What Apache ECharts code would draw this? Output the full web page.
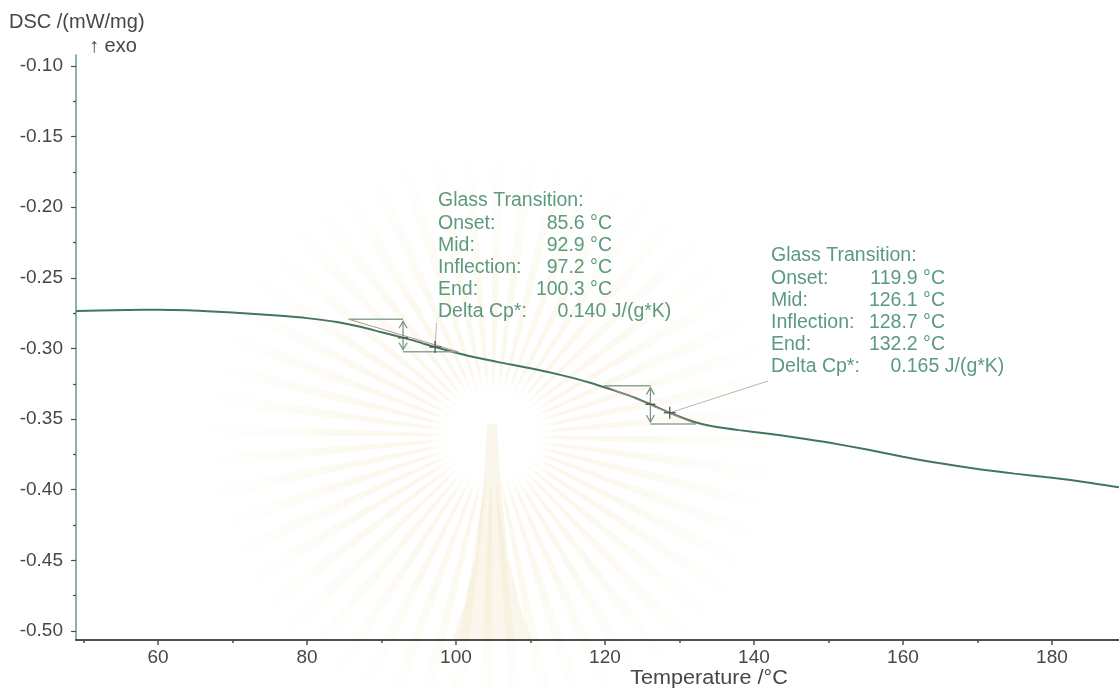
<!DOCTYPE html>
<html>
<head>
<meta charset="utf-8">
<script src="https://cdn.jsdelivr.net/npm/echarts@6/dist/echarts.min.js"></script>
<style>
  html, body { margin: 0; padding: 0; background: #ffffff; }
  #chart { width: 1119px; height: 688px; }
</style>
</head>
<body>
<div id="chart"></div>
<script>
// DSC heating curve: heat flow (mW/mg) against temperature (°C)
const temperature = [49, 52, 56, 60, 64, 68, 72, 76, 80, 84, 87, 90, 93, 95, 97.2, 100, 103, 106, 110, 114,
  118, 121, 124, 126.1, 128.7, 131, 133, 135, 138, 142, 146, 150, 155, 160, 165, 170, 175, 180, 185, 189];
const dsc = [-0.2734, -0.2731, -0.2727, -0.2726, -0.2730, -0.2740, -0.2752, -0.2767, -0.2785, -0.2812,
  -0.2845, -0.2885, -0.2925, -0.2955, -0.2990, -0.3030, -0.3068, -0.3100, -0.3140, -0.3187,
  -0.3242, -0.3293, -0.3348, -0.3395, -0.3455, -0.3503, -0.3535, -0.3556, -0.3578, -0.3604,
  -0.3633, -0.3666, -0.3714, -0.3766, -0.3813, -0.3853, -0.3886, -0.3915, -0.3950, -0.3983];

// Glass transition evaluations
const tgOnset = [85.6, 119.9];
const tgMid = [92.9, 126.1];
const tgInflection = [97.2, 128.7];
const tgEnd = [100.3, 132.2];
const tgDeltaCp = [0.140, 0.165];
const stepUpper = [-0.2793, -0.3263];   // extrapolated baseline before the step
const stepLower = [-0.3023, -0.3535];   // extrapolated baseline after the step
const dscAtMid = [-0.2924, -0.3395];
const dscAtInflection = [-0.2990, -0.3455];

// Axis ticks
const xMajorTicks = [60, 80, 100, 120, 140, 160, 180];
const xMinorTicks = [50, 70, 90, 110, 130, 150, 170];
const yMajorTicks = [-0.50, -0.45, -0.40, -0.35, -0.30, -0.25, -0.20, -0.15, -0.10];
const yMinorTicks = [-0.475, -0.425, -0.375, -0.325, -0.275, -0.225, -0.175, -0.125];

// Styling
const FONT = '"Liberation Sans", Arial, sans-serif';
const TEXT_GREEN = '#5b9a7e';
const CURVE = '#41765f';
const STEP = '#8fa497';
const TANGENT = '#b39388';
const ARROW = '#7a978a';
const CROSS = '#4a5852';
const LEADER = '#b4b8b6';
const AXIS_DARK = '#4e4e4e';
const AXIS_GREEN = '#5c9c84';
const LABEL = '#474747';

// Result boxes (pixel layout) and where their leader lines end
const resultBoxes = [
  { left: 438, top: 190, leaderEnd: [436.5, 323] },
  { left: 771, top: 245, leaderEnd: [768, 381] }
];
const ROW = 22.1;
const TEXT_SIZE = 19.5;
const VALUE_RIGHT = 174;   // right edge of the °C column, from the box's left edge
const DELTA_LEFT = 119.5;  // start of the Delta Cp value

function resultBlock(i) {
  const box = resultBoxes[i];
  const font = TEXT_SIZE + 'px ' + FONT;
  const rows = [
    ['Glass Transition:', ''],
    ['Onset:', tgOnset[i].toFixed(1) + ' °C'],
    ['Mid:', tgMid[i].toFixed(1) + ' °C'],
    ['Inflection:', tgInflection[i].toFixed(1) + ' °C'],
    ['End:', tgEnd[i].toFixed(1) + ' °C']
  ];
  const children = [];
  rows.forEach((r, k) => {
    const cy = box.top + ROW / 2 + k * ROW;
    children.push({ type: 'text', x: 0, y: cy,
      style: { text: r[0], font, fill: TEXT_GREEN, align: 'left', verticalAlign: 'middle' } });
    if (r[1]) {
      children.push({ type: 'text', x: VALUE_RIGHT, y: cy,
        style: { text: r[1], font, fill: TEXT_GREEN, align: 'right', verticalAlign: 'middle' } });
    }
  });
  const cyDelta = box.top + ROW / 2 + 5 * ROW;
  children.push({ type: 'text', x: 0, y: cyDelta,
    style: { text: 'Delta Cp*:', font, fill: TEXT_GREEN, align: 'left', verticalAlign: 'middle' } });
  children.push({ type: 'text', x: DELTA_LEFT, y: cyDelta,
    style: { text: tgDeltaCp[i].toFixed(3) + ' J/(g*K)', font, fill: TEXT_GREEN, align: 'left', verticalAlign: 'middle' } });
  return { type: 'group', x: box.left, y: 0, z: 20, children };
}

function axisTitle(text, x, y, size, stretch, align) {
  return {
    type: 'group', x, y, scaleX: stretch, z: 20,
    children: [{ type: 'text', x: 0, y: 0,
      style: { text, font: size + 'px ' + FONT, fill: LABEL, align, verticalAlign: 'middle' } }]
  };
}

// Faint sunburst watermark printed on the sheet behind the plot
function watermark() {
  const cx = 492, cy = 436, R = 290, n = 56;
  const rayFill = new echarts.graphic.RadialGradient(cx, cy, R, [
    { offset: 0, color: 'rgba(236,210,145,0.24)' },
    { offset: 0.5, color: 'rgba(236,210,145,0.13)' },
    { offset: 1, color: 'rgba(236,210,145,0)' }
  ], true);
  const parts = [];
  for (let k = 0; k < n; k++) {
    const a0 = (k / n) * Math.PI * 2, a1 = a0 + Math.PI / n * 0.8;
    parts.push({ type: 'polygon', silent: true,
      shape: { points: [[cx, cy], [cx + R * Math.cos(a0), cy + R * Math.sin(a0)], [cx + R * Math.cos(a1), cy + R * Math.sin(a1)]] },
      style: { fill: rayFill } });
  }
  const halo = new echarts.graphic.RadialGradient(cx, cy, 70, [
    { offset: 0, color: 'rgba(255,255,255,1)' },
    { offset: 0.65, color: 'rgba(255,255,255,0.95)' },
    { offset: 1, color: 'rgba(255,255,255,0)' }
  ], true);
  parts.push({ type: 'circle', silent: true, shape: { cx, cy, r: 70 }, style: { fill: halo } });
  parts.push({ type: 'polygon', silent: true,
    shape: { points: [[cx - 5, cy - 12], [cx + 5, cy - 12], [cx + 8, cy + 40], [cx + 16, cy + 120], [cx + 28, cy + 170],
      [cx + 40, cy + 204], [cx - 40, cy + 204], [cx - 28, cy + 170], [cx - 16, cy + 120], [cx - 8, cy + 40]] },
    style: { fill: 'rgba(222,196,130,0.16)' } });
  return { type: 'group', z: -10, silent: true, children: parts };
}

function renderTransition(params, api) {
  const i = params.dataIndex;
  const on = api.value(0), up = api.value(1), mid = api.value(2), lo = api.value(3);
  const end = api.value(4), inf = api.value(5), infV = api.value(6), midV = api.value(7);
  const a = api.coord([on, up]), b = api.coord([mid, up]);
  const c = api.coord([mid, lo]), d = api.coord([end, lo]);
  const pi = api.coord([inf, infV]), pm = api.coord([mid, midV]);
  const line = (p, q, stroke, w) => ({ type: 'line',
    shape: { x1: p[0], y1: p[1], x2: q[0], y2: q[1] }, style: { stroke, lineWidth: w } });
  const ax = b[0], y1 = b[1] + 2, y2 = c[1] - 2;
  const head = (yTip, dir) => ({ type: 'polyline',
    shape: { points: [[ax - 4, yTip + dir * 7], [ax, yTip], [ax + 4, yTip + dir * 7]] },
    style: { stroke: ARROW, fill: null, lineWidth: 1.3 } });
  return {
    type: 'group',
    children: [
      line(resultBoxes[i].leaderEnd, pi, LEADER, 1),
      line(a, b, STEP, 1.5),
      line(c, d, STEP, 1.5),
      line(a, d, TANGENT, 1),
      line([ax, y1], [ax, y2], ARROW, 1.3),
      head(y1, 1), head(y2, -1),
      line([pm[0] - 5, pm[1]], [pm[0] + 5, pm[1]], CROSS, 1.3),
      line([pi[0] - 6, pi[1]], [pi[0] + 6, pi[1]], CROSS, 1.3),
      line([pi[0], pi[1] - 6], [pi[0], pi[1] + 6], CROSS, 1.3)
    ]
  };
}

const chart = echarts.init(document.getElementById('chart'), null, { renderer: 'canvas' });

const xCommon = { type: 'value', min: 49, max: 189, splitLine: { show: false } };
const yCommon = { type: 'value', min: -0.5064, max: -0.0922, splitLine: { show: false } };

chart.setOption({
  animation: false,
  backgroundColor: '#ffffff',
  grid: { left: 76, right: 0, top: 55, bottom: 48 },
  xAxis: [
    Object.assign({}, xCommon, {
      position: 'bottom',
      axisLine: { show: true, onZero: false, lineStyle: { color: AXIS_DARK, width: 2 } },
      axisTick: { show: true, customValues: xMajorTicks, length: 5, lineStyle: { color: AXIS_DARK, width: 1.5 } },
      axisLabel: { show: true, customValues: xMajorTicks, margin: 8, fontSize: 19, fontFamily: FONT, color: LABEL }
    }),
    Object.assign({}, xCommon, {
      position: 'bottom',
      axisLine: { show: false },
      axisTick: { show: true, customValues: xMinorTicks, length: 3, lineStyle: { color: AXIS_DARK, width: 1.5 } },
      axisLabel: { show: false }
    })
  ],
  yAxis: [
    Object.assign({}, yCommon, {
      position: 'left',
      axisLine: { show: true, onZero: false, lineStyle: { color: AXIS_GREEN, width: 1.5 } },
      axisTick: { show: true, customValues: yMajorTicks, length: 5, lineStyle: { color: AXIS_DARK, width: 1.2 } },
      axisLabel: { show: true, customValues: yMajorTicks, margin: 13, fontSize: 19, fontFamily: FONT, color: LABEL,
        formatter: v => v.toFixed(2) }
    }),
    Object.assign({}, yCommon, {
      position: 'left',
      axisLine: { show: false },
      axisTick: { show: true, customValues: yMinorTicks, length: 3, lineStyle: { color: AXIS_DARK, width: 1.2 } },
      axisLabel: { show: false }
    })
  ],
  series: [
    {
      type: 'line',
      name: 'DSC',
      xAxisIndex: 0, yAxisIndex: 0,
      data: temperature.map((t, k) => [t, dsc[k]]),
      showSymbol: false,
      smooth: 0.25,
      lineStyle: { color: CURVE, width: 2 },
      z: 5
    },
    {
      type: 'custom',
      name: 'Glass transition',
      xAxisIndex: 0, yAxisIndex: 0,
      data: tgOnset.map((_, i) => [tgOnset[i], stepUpper[i], tgMid[i], stepLower[i], tgEnd[i],
        tgInflection[i], dscAtInflection[i], dscAtMid[i]]),
      encode: { x: 0, y: 1 },
      renderItem: renderTransition,
      z: 6
    }
  ],
  graphic: [
    watermark(),
    axisTitle('DSC /(mW/mg)', 9, 22, 20, 1, 'left'),
    axisTitle('\u2191 exo', 89, 46, 20, 1, 'left'),
    axisTitle('Temperature /°C', 709, 678, 20, 1.08, 'center'),
    resultBlock(0),
    resultBlock(1)
  ]
});
</script>
</body>
</html>
